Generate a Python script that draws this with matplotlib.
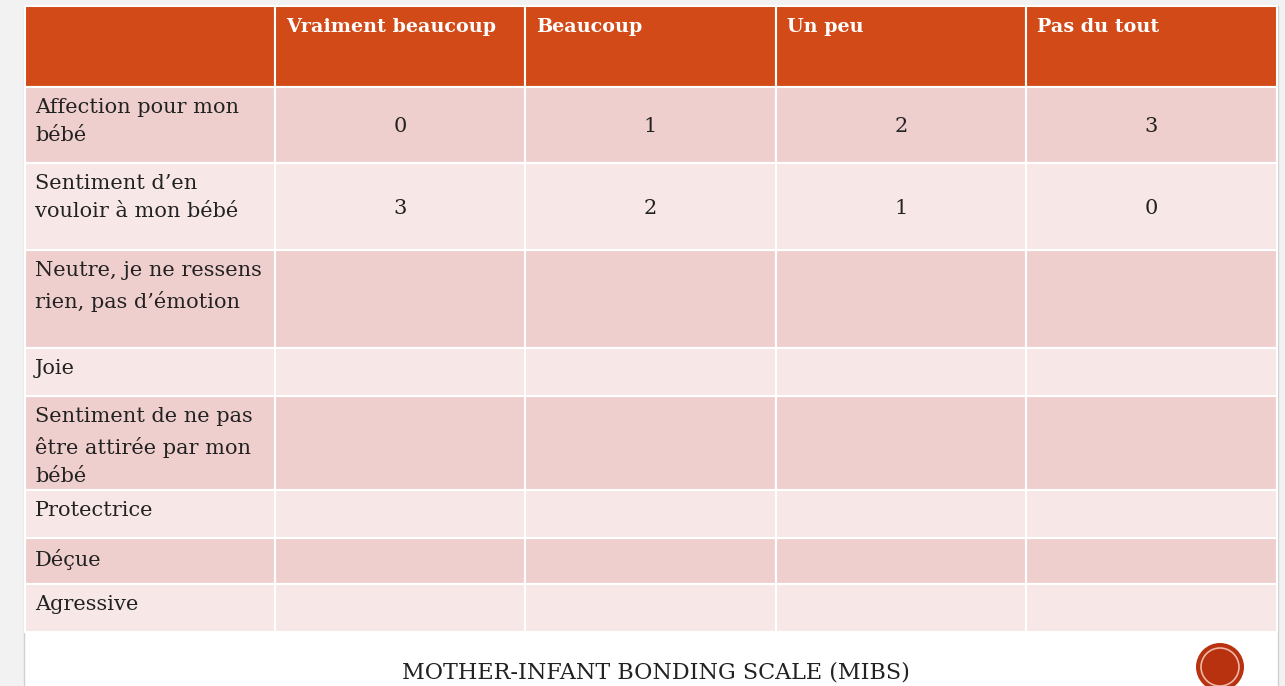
import matplotlib.pyplot as plt
from matplotlib.patches import Rectangle, Circle

# MIBS table slide

col_headers = ["", "Vraiment beaucoup", "Beaucoup", "Un peu", "Pas du tout"]
row_labels = [
    "Affection pour mon\nbébé",
    "Sentiment d’en\nvouloir à mon bébé",
    "Neutre, je ne ressens\nrien, pas d’émotion",
    "Joie",
    "Sentiment de ne pas\nêtre attirée par mon\nbébé",
    "Protectrice",
    "Déçue",
    "Agressive",
]
scores = [
    ["0", "1", "2", "3"],
    ["3", "2", "1", "0"],
    ["", "", "", ""],
    ["", "", "", ""],
    ["", "", "", ""],
    ["", "", "", ""],
    ["", "", "", ""],
    ["", "", "", ""],
]
title = "MOTHER-INFANT BONDING SCALE (MIBS)"

# layout (pixels)
col_edges = [25, 275, 525, 776, 1026, 1277]
header_h = 81
row_heights = [76, 87, 98, 48, 94, 48, 46, 48]
table_top = 6

header_col = "#d24a18"
row_cols = ["#efcfcd", "#f7e8e7"]
font = "DejaVu Serif"

fig = plt.figure(figsize=(12.85, 6.86), dpi=100)
ax = fig.add_axes([0, 0, 1, 1])
ax.set_xlim(0, 1285)
ax.set_ylim(686, 0)
ax.axis("off")
fig.patch.set_facecolor("#f2f2f2")

# slide
ax.add_patch(Rectangle((24, 6), 1254, 700, facecolor="white", edgecolor="#d0d0d0", lw=1))

# header
for i in range(len(col_headers)):
    x0, x1 = col_edges[i], col_edges[i + 1]
    ax.add_patch(Rectangle((x0, table_top), x1 - x0, header_h,
                           facecolor=header_col, edgecolor="white", lw=1.5))
    ax.text(x0 + 11, table_top + 21, col_headers[i], color="white",
            fontsize=13.8, fontweight="bold", family=font, va="center", ha="left")

# body
y = table_top + header_h
for r, label in enumerate(row_labels):
    h = row_heights[r]
    for c in range(len(col_headers)):
        x0, x1 = col_edges[c], col_edges[c + 1]
        ax.add_patch(Rectangle((x0, y), x1 - x0, h, facecolor=row_cols[r % 2],
                               edgecolor="white", lw=1.5))
    ax.text(col_edges[0] + 10, y + 11, label, fontsize=15, family=font,
            color="#222222", va="top", ha="left", linespacing=1.62)
    for c, v in enumerate(scores[r]):
        xc = (col_edges[c + 1] + col_edges[c + 2]) / 2
        ax.text(xc, y + h / 2 + 2, v, fontsize=15, family=font, color="#222222",
                ha="center", va="center")
    y += h

ax.text(656, 672, title, fontsize=16, family=font, color="#222222",
        ha="center", va="center")

ax.add_patch(Circle((1220, 667), 24, facecolor="#b83210", edgecolor="none"))
ax.add_patch(Circle((1220, 667), 19, facecolor="none", edgecolor="#f0b8a8", lw=1.2))

plt.savefig("out.png", dpi=100)
